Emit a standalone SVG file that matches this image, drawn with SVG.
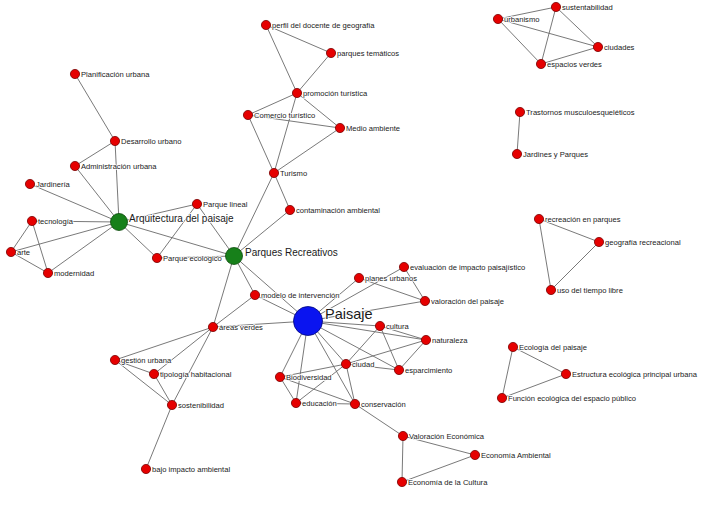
<svg xmlns="http://www.w3.org/2000/svg" width="709" height="508" viewBox="0 0 709 508">
<style>
.e{stroke:#6a6a6a;stroke-width:0.9;fill:none}
.r{fill:#e50000;stroke:#7a0000;stroke-width:0.8}
.g{fill:#17801a;stroke:#0b4a0b;stroke-width:0.8}
.b{fill:#0a14f0;stroke:#00067a;stroke-width:0.8}
text{font-family:"Liberation Sans",Arial,sans-serif;fill:#1a1a1a;paint-order:stroke;stroke:#fff;stroke-width:1.6;stroke-linejoin:round}
.s{font-size:7.6px}
.m{font-size:10px}
.l{font-size:14.5px}
</style>
<rect width="709" height="508" fill="#fff"/>
<g id="connectors">
<line class="e" x1="75" y1="74" x2="115" y2="141"/>
<line class="e" x1="115" y1="141" x2="75" y2="166"/>
<line class="e" x1="115" y1="141" x2="119" y2="222"/>
<line class="e" x1="75" y1="166" x2="119" y2="222"/>
<line class="e" x1="30" y1="184" x2="119" y2="222"/>
<line class="e" x1="32" y1="221" x2="119" y2="222"/>
<line class="e" x1="11" y1="252" x2="119" y2="222"/>
<line class="e" x1="48" y1="273" x2="119" y2="222"/>
<line class="e" x1="32" y1="221" x2="11" y2="252"/>
<line class="e" x1="32" y1="221" x2="48" y2="273"/>
<line class="e" x1="11" y1="252" x2="48" y2="273"/>
<line class="e" x1="119" y1="222" x2="157" y2="258"/>
<line class="e" x1="119" y1="222" x2="234" y2="256"/>
<line class="e" x1="119" y1="222" x2="197" y2="204"/>
<line class="e" x1="197" y1="204" x2="234" y2="256"/>
<line class="e" x1="157" y1="258" x2="197" y2="204"/>
<line class="e" x1="157" y1="258" x2="234" y2="256"/>
<line class="e" x1="234" y1="256" x2="274" y2="173"/>
<line class="e" x1="234" y1="256" x2="290" y2="210"/>
<line class="e" x1="234" y1="256" x2="255" y2="295"/>
<line class="e" x1="234" y1="256" x2="308" y2="321"/>
<line class="e" x1="234" y1="256" x2="213" y2="327"/>
<line class="e" x1="274" y1="173" x2="248" y2="115"/>
<line class="e" x1="274" y1="173" x2="297" y2="93"/>
<line class="e" x1="274" y1="173" x2="340" y2="128"/>
<line class="e" x1="274" y1="173" x2="290" y2="210"/>
<line class="e" x1="248" y1="115" x2="297" y2="93"/>
<line class="e" x1="248" y1="115" x2="340" y2="128"/>
<line class="e" x1="297" y1="93" x2="340" y2="128"/>
<line class="e" x1="297" y1="93" x2="266" y2="25"/>
<line class="e" x1="297" y1="93" x2="331" y2="53"/>
<line class="e" x1="266" y1="25" x2="331" y2="53"/>
<line class="e" x1="255" y1="295" x2="308" y2="321"/>
<line class="e" x1="255" y1="295" x2="213" y2="327"/>
<line class="e" x1="213" y1="327" x2="308" y2="321"/>
<line class="e" x1="213" y1="327" x2="115" y2="360"/>
<line class="e" x1="213" y1="327" x2="154" y2="374"/>
<line class="e" x1="213" y1="327" x2="172" y2="405"/>
<line class="e" x1="115" y1="360" x2="154" y2="374"/>
<line class="e" x1="115" y1="360" x2="172" y2="405"/>
<line class="e" x1="154" y1="374" x2="172" y2="405"/>
<line class="e" x1="172" y1="405" x2="146" y2="469"/>
<line class="e" x1="308" y1="321" x2="359" y2="278"/>
<line class="e" x1="308" y1="321" x2="404" y2="267"/>
<line class="e" x1="308" y1="321" x2="425" y2="301"/>
<line class="e" x1="359" y1="278" x2="425" y2="301"/>
<line class="e" x1="404" y1="267" x2="425" y2="301"/>
<line class="e" x1="308" y1="321" x2="380" y2="326"/>
<line class="e" x1="308" y1="321" x2="426" y2="340"/>
<line class="e" x1="308" y1="321" x2="399" y2="370"/>
<line class="e" x1="308" y1="321" x2="346" y2="364"/>
<line class="e" x1="308" y1="321" x2="355" y2="404"/>
<line class="e" x1="308" y1="321" x2="280" y2="377"/>
<line class="e" x1="308" y1="321" x2="296" y2="403"/>
<line class="e" x1="380" y1="326" x2="426" y2="340"/>
<line class="e" x1="380" y1="326" x2="399" y2="370"/>
<line class="e" x1="426" y1="340" x2="399" y2="370"/>
<line class="e" x1="346" y1="364" x2="380" y2="326"/>
<line class="e" x1="346" y1="364" x2="426" y2="340"/>
<line class="e" x1="346" y1="364" x2="399" y2="370"/>
<line class="e" x1="346" y1="364" x2="280" y2="377"/>
<line class="e" x1="346" y1="364" x2="296" y2="403"/>
<line class="e" x1="346" y1="364" x2="355" y2="404"/>
<line class="e" x1="280" y1="377" x2="296" y2="403"/>
<line class="e" x1="280" y1="377" x2="355" y2="404"/>
<line class="e" x1="296" y1="403" x2="355" y2="404"/>
<line class="e" x1="355" y1="404" x2="403" y2="436"/>
<line class="e" x1="403" y1="436" x2="475" y2="455"/>
<line class="e" x1="403" y1="436" x2="402" y2="482"/>
<line class="e" x1="475" y1="455" x2="402" y2="482"/>
<line class="e" x1="498" y1="19" x2="556" y2="7"/>
<line class="e" x1="498" y1="19" x2="598" y2="47"/>
<line class="e" x1="498" y1="19" x2="541" y2="64"/>
<line class="e" x1="556" y1="7" x2="541" y2="64"/>
<line class="e" x1="556" y1="7" x2="598" y2="47"/>
<line class="e" x1="541" y1="64" x2="598" y2="47"/>
<line class="e" x1="520" y1="112" x2="517" y2="154"/>
<line class="e" x1="539" y1="219" x2="599" y2="242"/>
<line class="e" x1="539" y1="219" x2="551" y2="290"/>
<line class="e" x1="599" y1="242" x2="551" y2="290"/>
<line class="e" x1="513" y1="347" x2="566" y2="374"/>
<line class="e" x1="513" y1="347" x2="502" y2="398"/>
<line class="e" x1="566" y1="374" x2="502" y2="398"/>
</g>
<g id="n_plan"><text class="s" x="81" y="76.5">Planificación urbana</text><circle class="r" cx="75" cy="74" r="4.6"/></g>
<g id="n_desa"><text class="s" x="121" y="143.5">Desarrollo urbano</text><circle class="r" cx="115" cy="141" r="4.6"/></g>
<g id="n_admin"><text class="s" x="81" y="168.5">Administración urbana</text><circle class="r" cx="75" cy="166" r="4.6"/></g>
<g id="n_jard"><text class="s" x="36" y="186.5">Jardinería</text><circle class="r" cx="30" cy="184" r="4.6"/></g>
<g id="n_tecn"><text class="s" x="38" y="223.5">tecnología</text><circle class="r" cx="32" cy="221" r="4.6"/></g>
<g id="n_arte"><text class="s" x="17" y="254.5">arte</text><circle class="r" cx="11" cy="252" r="4.6"/></g>
<g id="n_mode"><text class="s" x="54" y="275.5">modernidad</text><circle class="r" cx="48" cy="273" r="4.6"/></g>
<g id="n_arq"><text class="m" x="129" y="222">Arquitectura del paisaje</text><circle class="g" cx="119" cy="222" r="8.5"/></g>
<g id="n_plin"><text class="s" x="203" y="206.5">Parque lineal</text><circle class="r" cx="197" cy="204" r="4.6"/></g>
<g id="n_peco"><text class="s" x="163" y="260.5">Parque ecológico</text><circle class="r" cx="157" cy="258" r="4.6"/></g>
<g id="n_prec"><text class="m" x="245" y="256">Parques Recreativos</text><circle class="g" cx="234" cy="256" r="8.5"/></g>
<g id="n_perf"><text class="s" x="272" y="27.5">perfil del docente de geografía</text><circle class="r" cx="266" cy="25" r="4.6"/></g>
<g id="n_ptem"><text class="s" x="337" y="55.5">parques temáticos</text><circle class="r" cx="331" cy="53" r="4.6"/></g>
<g id="n_prom"><text class="s" x="303" y="95.5">promoción turística</text><circle class="r" cx="297" cy="93" r="4.6"/></g>
<g id="n_come"><text class="s" x="254" y="117.5">Comercio turístico</text><circle class="r" cx="248" cy="115" r="4.6"/></g>
<g id="n_medi"><text class="s" x="346" y="130.5">Medio ambiente</text><circle class="r" cx="340" cy="128" r="4.6"/></g>
<g id="n_turi"><text class="s" x="280" y="175.5">Turismo</text><circle class="r" cx="274" cy="173" r="4.6"/></g>
<g id="n_cont"><text class="s" x="296" y="212.5">contaminación ambiental</text><circle class="r" cx="290" cy="210" r="4.6"/></g>
<g id="n_eval"><text class="s" x="410" y="269.5">evaluación de impacto paisajístico</text><circle class="r" cx="404" cy="267" r="4.6"/></g>
<g id="n_plur"><text class="s" x="365" y="280.5">planes urbanos</text><circle class="r" cx="359" cy="278" r="4.6"/></g>
<g id="n_valp"><text class="s" x="431" y="303.5">valoración del paisaje</text><circle class="r" cx="425" cy="301" r="4.6"/></g>
<g id="n_mint"><text class="s" x="261" y="297.5">modelo de intervención</text><circle class="r" cx="255" cy="295" r="4.6"/></g>
<g id="n_pais"><text class="l" x="325" y="319">Paisaje</text><circle class="b" cx="308" cy="321" r="14.5"/></g>
<g id="n_aver"><text class="s" x="219" y="329.5">áreas verdes</text><circle class="r" cx="213" cy="327" r="4.6"/></g>
<g id="n_cult"><text class="s" x="386" y="328.5">cultura</text><circle class="r" cx="380" cy="326" r="4.6"/></g>
<g id="n_natu"><text class="s" x="432" y="342.5">naturaleza</text><circle class="r" cx="426" cy="340" r="4.6"/></g>
<g id="n_ciud"><text class="s" x="352" y="366.5">ciudad</text><circle class="r" cx="346" cy="364" r="4.6"/></g>
<g id="n_espa"><text class="s" x="405" y="372.5">esparcimiento</text><circle class="r" cx="399" cy="370" r="4.6"/></g>
<g id="n_biod"><text class="s" x="286" y="379.5">Biodiversidad</text><circle class="r" cx="280" cy="377" r="4.6"/></g>
<g id="n_educ"><text class="s" x="302" y="405.5">educación</text><circle class="r" cx="296" cy="403" r="4.6"/></g>
<g id="n_cons"><text class="s" x="361" y="406.5">conservación</text><circle class="r" cx="355" cy="404" r="4.6"/></g>
<g id="n_vale"><text class="s" x="409" y="438.5">Valoración Económica</text><circle class="r" cx="403" cy="436" r="4.6"/></g>
<g id="n_ecam"><text class="s" x="481" y="457.5">Economía Ambiental</text><circle class="r" cx="475" cy="455" r="4.6"/></g>
<g id="n_eccu"><text class="s" x="408" y="484.5">Economía de la Cultura</text><circle class="r" cx="402" cy="482" r="4.6"/></g>
<g id="n_gest"><text class="s" x="121" y="362.5">gestión urbana</text><circle class="r" cx="115" cy="360" r="4.6"/></g>
<g id="n_tipo"><text class="s" x="160" y="376.5">tipología habitacional</text><circle class="r" cx="154" cy="374" r="4.6"/></g>
<g id="n_sost"><text class="s" x="178" y="407.5">sostenibilidad</text><circle class="r" cx="172" cy="405" r="4.6"/></g>
<g id="n_bajo"><text class="s" x="152" y="471.5">bajo impacto ambiental</text><circle class="r" cx="146" cy="469" r="4.6"/></g>
<g id="n_sust"><text class="s" x="562" y="9.5">sustentabilidad</text><circle class="r" cx="556" cy="7" r="4.6"/></g>
<g id="n_urba"><text class="s" x="504" y="21.5">urbanismo</text><circle class="r" cx="498" cy="19" r="4.6"/></g>
<g id="n_ciuds"><text class="s" x="604" y="49.5">ciudades</text><circle class="r" cx="598" cy="47" r="4.6"/></g>
<g id="n_espv"><text class="s" x="547" y="66.5">espacios verdes</text><circle class="r" cx="541" cy="64" r="4.6"/></g>
<g id="n_tras"><text class="s" x="526" y="114.5">Trastornos musculoesqueléticos</text><circle class="r" cx="520" cy="112" r="4.6"/></g>
<g id="n_jarp"><text class="s" x="523" y="156.5">Jardines y Parques</text><circle class="r" cx="517" cy="154" r="4.6"/></g>
<g id="n_recr"><text class="s" x="545" y="221.5">recreación en parques</text><circle class="r" cx="539" cy="219" r="4.6"/></g>
<g id="n_geor"><text class="s" x="605" y="244.5">geografía recreacional</text><circle class="r" cx="599" cy="242" r="4.6"/></g>
<g id="n_uso"><text class="s" x="557" y="292.5">uso del tiempo libre</text><circle class="r" cx="551" cy="290" r="4.6"/></g>
<g id="n_ecol"><text class="s" x="519" y="349.5">Ecología del paisaje</text><circle class="r" cx="513" cy="347" r="4.6"/></g>
<g id="n_estr"><text class="s" x="572" y="376.5">Estructura ecológica principal urbana</text><circle class="r" cx="566" cy="374" r="4.6"/></g>
<g id="n_func"><text class="s" x="508" y="400.5">Función ecológica del espacio público</text><circle class="r" cx="502" cy="398" r="4.6"/></g>
</svg>
